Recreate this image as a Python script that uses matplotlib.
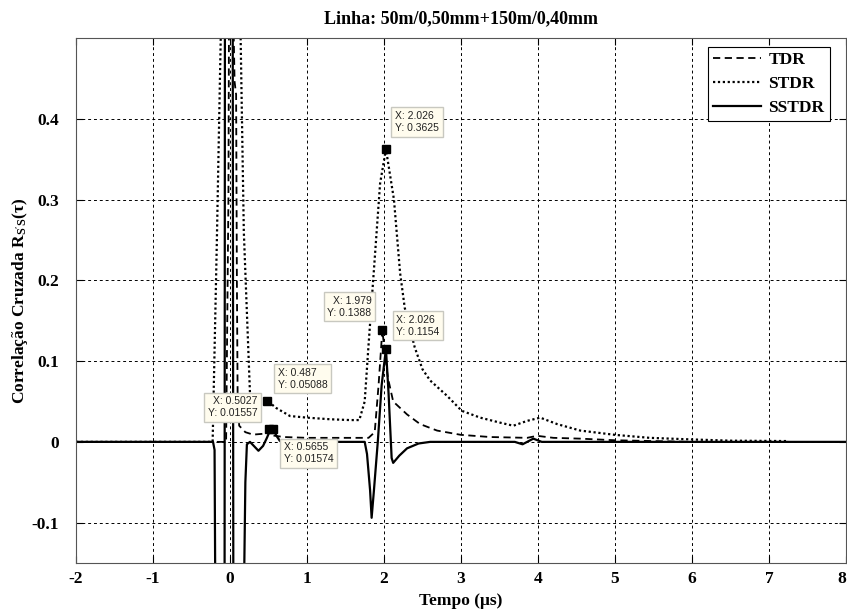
import matplotlib
matplotlib.use('Agg')
import matplotlib.pyplot as plt
import numpy as np

# curves (tempo in us)
tdr_x = [-2.0, -0.05, -0.02, 0.0, 0.03, 0.06, 0.08, 0.09, 0.10, 0.12, 0.2, 0.3, 0.43, 0.5027,
         0.55, 0.7, 1.0, 1.5, 1.8, 1.88, 1.93, 1.979, 2.0, 2.05, 2.12, 2.3, 2.47, 2.69, 3.0,
         3.38, 3.86, 3.99, 4.2, 4.55, 5.0, 5.5, 6.0, 7.25]
tdr_y = [0.0, 0.0, 0.3, 0.9, 0.6, 0.446, 0.43, 0.2, 0.05, 0.02, 0.012, 0.009, 0.010, 0.01557,
         0.008, 0.006, 0.005, 0.005, 0.005, 0.012, 0.07, 0.1388, 0.12, 0.08, 0.05, 0.034, 0.022,
         0.014, 0.0087, 0.006, 0.005, 0.0075, 0.005, 0.004, 0.002, 0.001, 0.0, 0.0]

stdr_x = [-2.0, -0.225, -0.17, -0.11, 0.0, 0.13, 0.18, 0.26, 0.3, 0.4, 0.487, 0.6, 0.78, 1.0,
          1.3, 1.56, 1.68, 1.75, 1.80, 1.86, 1.95, 2.026, 2.13, 2.21, 2.27, 2.40, 2.5, 2.6,
          2.82, 3.01, 3.25, 3.5, 3.68, 3.86, 4.03, 4.25, 4.55, 5.0, 5.45, 6.0, 6.5, 7.25]
stdr_y = [0.0, 0.0, 0.25, 0.55, 1.0, 0.55, 0.26, 0.06, 0.055, 0.052, 0.05088, 0.042, 0.032,
          0.030, 0.028, 0.027, 0.027, 0.05, 0.12, 0.2, 0.32, 0.3625, 0.30, 0.209, 0.166, 0.117,
          0.09, 0.076, 0.057, 0.0385, 0.030, 0.024, 0.020, 0.026, 0.030, 0.022, 0.014, 0.0087,
          0.005, 0.003, 0.0015, 0.001]

sstdr_x = [-2.0, -0.22, -0.2, -0.19, -0.17, -0.1, -0.07, -0.065, 0.0, 0.035, 0.045, 0.12, 0.18,
           0.2, 0.22, 0.26, 0.31, 0.37, 0.43, 0.48, 0.52, 0.5655, 0.6, 0.65, 0.75, 1.75, 1.78,
           1.82, 1.84, 1.87, 1.92, 1.97, 2.026, 2.06, 2.1, 2.12, 2.2, 2.3, 2.45, 2.6, 3.7, 3.8,
           3.94, 4.05, 8.0]
sstdr_y = [0.0, 0.0, -0.01, -0.2, -0.35, -0.3, -0.2, 0.6, 1.0, 0.6, -0.3, -0.35, -0.2, -0.05,
           -0.003, 0.0, -0.005, -0.011, -0.005, 0.005, 0.014, 0.01574, 0.008, 0.001, 0.0, 0.0,
           -0.015, -0.06, -0.094, -0.06, 0.0, 0.07, 0.1154, 0.06, -0.02, -0.026, -0.017, -0.008,
           -0.002, 0.0, 0.0, -0.003, 0.004, 0.0, 0.0]

# data tips
tips_x = [2.026, 1.979, 2.026, 0.487, 0.5027, 0.5655]
tips_y = [0.3625, 0.1388, 0.1154, 0.05088, 0.01557, 0.01574]
tips_lbl = ['2.026|0.3625', '1.979|0.1388', '2.026|0.1154', '0.487|0.05088',
            '0.5027|0.01557', '0.5655|0.01574']


def main():
    plt.rcParams['font.family'] = ['Liberation Serif', 'DejaVu Serif']
    plt.rcParams['font.weight'] = 'bold'
    plt.rcParams['axes.unicode_minus'] = False
    plt.rcParams['mathtext.fontset'] = 'custom'
    plt.rcParams['mathtext.rm'] = 'Liberation Serif:bold'
    plt.rcParams['mathtext.it'] = 'Liberation Serif:bold'
    plt.rcParams['mathtext.bf'] = 'Liberation Serif:bold'

    fig = plt.figure(figsize=(8.47, 6.09), dpi=100)
    ax = fig.add_axes([0.0897, 0.0755, 0.909, 0.862])

    ax.plot(tdr_x, tdr_y, color='k', ls=(0, (4, 2.5)), lw=1.3, label='TDR')
    ax.plot(stdr_x, stdr_y, color='k', ls=(0, (1, 1.2)), lw=1.6, label='STDR')
    ax.plot(sstdr_x, sstdr_y, color='k', ls='-', lw=1.6, label='SSTDR')

    ax.set_xlim(-2, 8)
    ax.set_ylim(-0.15, 0.5)
    ax.set_xticks(np.arange(-2, 9, 1))
    ax.set_yticks([-0.1, 0, 0.1, 0.2, 0.3, 0.4])
    ax.set_yticklabels(['-0.1', '0', '0.1', '0.2', '0.3', '0.4'])
    ax.tick_params(direction='in', top=True, right=True, labelsize=12.5, length=5)
    ax.tick_params(axis='y', pad=12)
    ax.tick_params(axis='x', pad=6)
    for lab in ax.get_xticklabels() + ax.get_yticklabels():
        lab.set_fontweight('bold')
    ax.get_xticklabels()[-1].set_horizontalalignment('right')
    ax.grid(True, color='k', ls=(0, (3, 3)), lw=0.7)
    for sp in ax.spines.values():
        sp.set_color('#555555')

    ax.set_title('Linha: 50m/0,50mm+150m/0,40mm', fontsize=13, fontweight='bold', pad=11)
    ax.set_xlabel('Tempo (μs)', fontsize=12.5, fontweight='bold', labelpad=4)
    ax.set_ylabel(r"Correlação Cruzada R$_{\mathrm{S'S}}$(τ)", fontsize=12.5,
                  fontweight='bold', labelpad=1)

    leg = ax.legend(loc='upper right', bbox_to_anchor=(0.979, 0.983), borderaxespad=0,
                    fancybox=False, edgecolor='k', framealpha=1, handlelength=2.8,
                    fontsize=12.5, borderpad=0.3, labelspacing=0.45, handletextpad=0.4)
    leg.get_frame().set_linewidth(0.8)
    for t in leg.get_texts():
        t.set_fontweight('bold')

    # datatip boxes (offset in pixels from point, text alignment)
    offs = [(31, 27, 'left'), (-33, 23, 'right'), (32, 23, 'left'),
            (35, 22, 'left'), (-36, 22, 'right'), (35, -24, 'left')]
    for x, y, lbl, (dx, dy, al) in zip(tips_x, tips_y, tips_lbl, offs):
        sx, sy = lbl.split('|')
        ax.plot([x], [y], marker='s', color='k', ms=6, ls='none', zorder=6)
        ax.annotate('X: %s\nY: %s' % (sx, sy), (x, y), xytext=(dx, dy),
                    textcoords='offset pixels', ha='center', va='center',
                    multialignment=al, fontsize=7.5, family='Liberation Sans',
                    fontweight='normal', color='#222222', linespacing=1.25, zorder=7,
                    bbox=dict(boxstyle='square,pad=0.35', fc='#FFFCEE', ec='#C8C8C0', lw=1))

    fig.savefig('out.png', dpi=100)


if __name__ == '__main__':
    main()
